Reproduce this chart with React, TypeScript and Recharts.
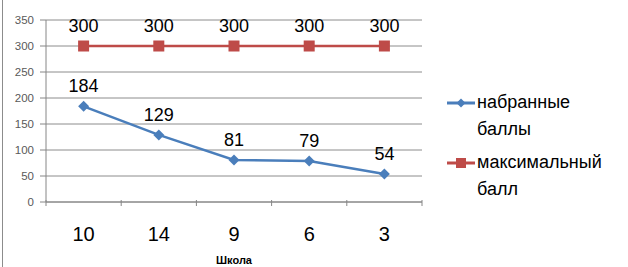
import { LineChart, Line, XAxis, YAxis, CartesianGrid, Legend, LabelList } from "recharts";

const schools = ["10", "14", "9", "6", "3"];
const scored = [184, 129, 81, 79, 54];
const maxScore = [300, 300, 300, 300, 300];
const yTicks = [0, 50, 100, 150, 200, 250, 300, 350];

const BLUE = "#4A7EBB";
const RED = "#BE4B48";
const FONT = "'Liberation Sans', Arial, sans-serif";
const HALF_BAND = 37.6; // (plot width / categories) / 2

const data = schools.map((s, i) => ({ school: s, scored: scored[i], max: maxScore[i] }));

const Diamond = (props: any) => {
  const { cx, cy } = props;
  if (cx == null || cy == null) return null;
  const r = 5.5;
  return <path d={`M${cx},${cy - r}L${cx + r},${cy}L${cx},${cy + r}L${cx - r},${cy}Z`} fill={BLUE} />;
};

const Square = (props: any) => {
  const { cx, cy } = props;
  if (cx == null || cy == null) return null;
  return <rect x={cx - 5.5} y={cy - 5.5} width={11} height={11} fill={RED} />;
};

// category labels plus tick marks between the bands, like Excel
const SchoolTick = (props: any) => {
  const { x, y, payload, index } = props;
  return (
    <g>
      <line x1={x - HALF_BAND} y1={y - 25} x2={x - HALF_BAND} y2={y - 19} stroke="#868686" />
      {index === schools.length - 1 && (
        <line x1={x + HALF_BAND} y1={y - 25} x2={x + HALF_BAND} y2={y - 19} stroke="#868686" />
      )}
      <text x={x} y={y} dy={16} textAnchor="middle" fontSize={20} fill="#000" fontFamily={FONT}>
        {payload.value}
      </text>
    </g>
  );
};

const legendItems = [
  { lines: ["набранные", "баллы"], color: BLUE, shape: "diamond" },
  { lines: ["максимальный", "балл"], color: RED, shape: "square" },
];

const renderLegend = () => (
  <div style={{ paddingLeft: 25, fontFamily: FONT, fontSize: 18, color: "#000", lineHeight: "27px" }}>
    {legendItems.map((it) => (
      <div key={it.lines[0]} style={{ display: "flex", marginBottom: 6 }}>
        <svg width={30} height={27} style={{ flexShrink: 0 }}>
          <line x1={0} y1={14} x2={28} y2={14} stroke={it.color} strokeWidth={3} />
          {it.shape === "diamond" ? (
            <path d="M14,9.5L18.5,14L14,18.5L9.5,14Z" fill={it.color} />
          ) : (
            <rect x={9} y={9} width={10} height={10} fill={it.color} />
          )}
        </svg>
        <div>
          {it.lines.map((l) => (
            <div key={l}>{l}</div>
          ))}
        </div>
      </div>
    ))}
  </div>
);

export default function App() {
  return (
    <div style={{ position: "absolute", left: 0, top: 0, width: 628, height: 267, background: "#fff" }}>
      <div style={{ position: "absolute", left: 2, top: 0, width: 1, height: 267, background: "#8c8c8c" }} />
      <LineChart width={628} height={267} data={data} margin={{ top: 20, right: 0, bottom: 0, left: 0 }}>
        <CartesianGrid vertical={false} stroke="#8c8c8c" />
        <XAxis
          dataKey="school"
          height={65}
          padding={{ left: HALF_BAND, right: HALF_BAND }}
          tickLine={false}
          stroke="#868686"
          tick={<SchoolTick />}
          tickMargin={17}
          label={{ value: "Школа", position: "insideBottom", offset: 3, fontSize: 11, fontWeight: "bold", fill: "#000", fontFamily: FONT }}
        />
        <YAxis
          width={46}
          domain={[0, 350]}
          ticks={yTicks}
          stroke="#868686"
          tickSize={6}
          tickMargin={6}
          tick={{ fontSize: 11.5, fill: "#595959", fontFamily: FONT }}
          interval={0}
        />
        <Legend
          layout="vertical"
          align="right"
          verticalAlign="top"
          width={206}
          wrapperStyle={{ top: 89 }}
          content={renderLegend}
        />
        <Line dataKey="scored" stroke={BLUE} strokeWidth={2.5} dot={<Diamond />} activeDot={false} isAnimationActive={false}>
          <LabelList dataKey="scored" position="top" offset={14} fontSize={18} fill="#000" fontFamily={FONT} />
        </Line>
        <Line dataKey="max" stroke={RED} strokeWidth={2.5} dot={<Square />} activeDot={false} isAnimationActive={false}>
          <LabelList dataKey="max" position="top" offset={14} fontSize={18} fill="#000" fontFamily={FONT} />
        </Line>
      </LineChart>
    </div>
  );
}
